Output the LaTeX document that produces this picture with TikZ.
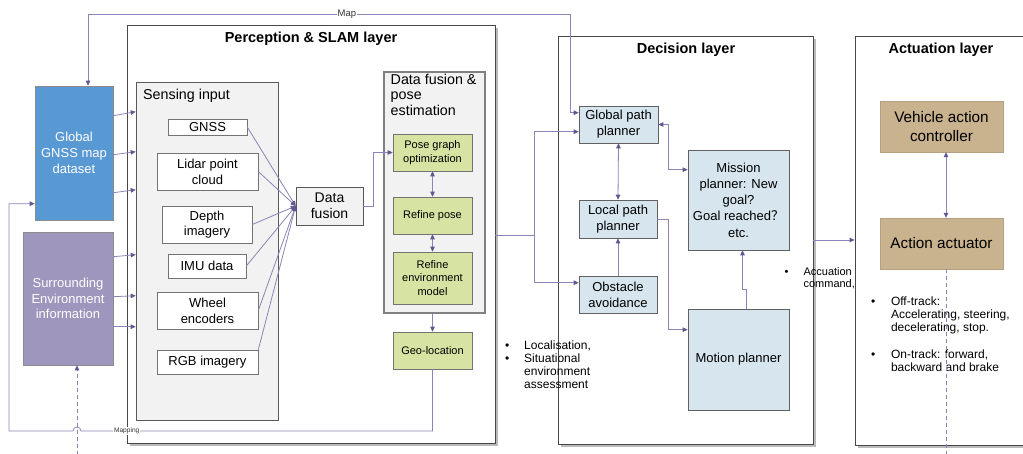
\documentclass[tikz,border=0pt]{standalone}
\usepackage{fontspec}
\setmainfont{Liberation Sans}
\newfontfamily\cjkfont{Noto Sans CJK SC}
\usetikzlibrary{arrows.meta,calc,shadows}

\definecolor{linec}{RGB}{140,132,184}
\definecolor{tipc}{RGB}{96,88,146}
\definecolor{mapblue}{RGB}{88,152,211}
\definecolor{envpurple}{RGB}{158,150,188}
\definecolor{stepgreen}{RGB}{214,227,162}
\definecolor{planblue}{RGB}{214,229,238}
\definecolor{acttan}{RGB}{201,179,143}
\definecolor{panelgray}{RGB}{242,242,242}

\newcommand\fsz[2]{\fontsize{#1}{#2}\selectfont}

\begin{document}
\begin{tikzpicture}[x=1pt,y=-1pt,
  sz/.style 2 args={minimum width=#1pt, minimum height=#2pt},
  layer/.style={draw=black!72, line width=0.8pt, fill=white,
    drop shadow={shadow xshift=2.5pt, shadow yshift=-2.5pt, fill=black!45, opacity=0.6}},
  title/.style={font=\bfseries\fsz{14.5}{16}, inner sep=0pt},
  source/.style={draw=black!45, line width=0.6pt, text=white, align=center,
    font=\fsz{13}{16}, inner sep=2pt},
  sensor/.style={draw=black!55, line width=0.6pt, fill=white, align=center,
    font=\fsz{13}{15.7}, inner sep=1pt},
  panel/.style={draw=black!65, line width=0.6pt, fill=panelgray},
  stepbox/.style={draw=black!55, line width=0.6pt, fill=stepgreen, align=center,
    font=\fsz{11}{13.4}, inner sep=1pt},
  planbox/.style={draw=black!62, line width=0.6pt, fill=planblue, align=center,
    font=\fsz{13}{16.2}, inner sep=1pt},
  actbox/.style={draw=acttan!90!black, line width=0.4pt, fill=acttan, align=center,
    font=\fsz{15.3}{18.3}, inner sep=1pt},
  note/.style={inner sep=0pt, anchor=north west},
  conn/.style={draw=linec, line width=0.8pt},
  arr/.style={conn, -{Triangle[length=5pt,width=4.5pt,color=tipc]}},
  dblarr/.style={conn, {Triangle[length=5pt,width=4.5pt,color=tipc]}-{Triangle[length=5pt,width=4.5pt,color=tipc]}},
  lbl/.style={fill=white, inner sep=0.8pt, text=black!80}
]
\useasboundingbox (0,0) rectangle (1023,453);
\clip (0,0) rectangle (1023,453);

% ---------- layers ----------
\node[layer, sz={368}{418}] (percep) at (311,234) {};
\node[title] (percepT) at (311,39) {Perception \& SLAM layer};
\node[layer, sz={255}{408}] (decision) at (685.5,240) {};
\node[title] (decisionT) at (686,50) {Decision layer};
\node[layer, sz={175}{409}] (actuation) at (942.5,240.5) {};
\node[title] (actuationT) at (941,50) {Actuation layer};

% ---------- external sources ----------
\node[source, fill=mapblue, sz={78}{134}] (gnssmap) at (74,153) {Global\\GNSS map\\dataset};
\node[source, fill=envpurple, sz={90}{133}, font=\fsz{13}{15.7}] (surround) at (68,298.5)
  {Surrounding\\Environment\\information};

% ---------- sensing input ----------
\node[panel, sz={142}{338}] (sensing) at (207,251) {};
\node[inner sep=0pt, anchor=west, font=\fsz{14.3}{16}] (sensingT) at (143,96) {Sensing input};
\node[sensor, sz={79}{16}] (gnss) at (207.5,127) {GNSS};
\node[sensor, sz={101}{37}] (lidar) at (207.5,171.5) {Lidar point\\cloud};
\node[sensor, sz={90}{37}] (depth) at (207,224.5) {Depth\\imagery};
\node[sensor, sz={78}{24}] (imu) at (207,266) {IMU data};
\node[sensor, sz={101}{37}] (wheel) at (207.5,310.5) {Wheel\\encoders};
\node[sensor, sz={101}{24}] (rgb) at (207.5,362) {RGB imagery};

\node[panel, sz={67}{38}, align=center, font=\fsz{14}{15.7}, inner sep=1pt] (df) at (329.5,206) {Data\\fusion};

% ---------- data fusion & pose estimation ----------
\node[draw=black!50, line width=1.3pt, fill=panelgray, sz={101}{241},
  drop shadow={shadow xshift=1.2pt, shadow yshift=-1.2pt, fill=black!30, opacity=0.5}] (dfpe) at (434.5,192.5) {};
\node[note, align=left, font=\fsz{14.3}{15.5}] (dfpeT) at (390.5,73.5) {Data fusion \&\\pose\\estimation};
\node[stepbox, sz={79}{37}] (pgo) at (432.5,152.5) {Pose graph\\optimization};
\node[stepbox, sz={79}{37}] (rpose) at (432.5,215.5) {Refine pose};
\node[stepbox, sz={79}{52}] (renv) at (432.5,278) {Refine\\environment\\model};
\node[stepbox, sz={79}{37}] (geo) at (432.5,350.5) {Geo-location};

% ---------- decision layer ----------
\node[planbox, sz={79}{37}] (gpp) at (618.5,124.5) {Global path\\planner};
\node[planbox, sz={78}{38}] (lpp) at (618,219) {Local path\\planner};
\node[planbox, sz={78}{37}] (obs) at (618,294.5) {Obstacle\\avoidance};
\node[planbox, sz={101}{100}] (mission) at (738.5,200)
  {Mission\\planner: New\\goal?\\Goal reached{\cjkfont ？}\\etc.};
\node[planbox, sz={101}{101}] (motion) at (738.5,359.5) {Motion planner};

% ---------- actuation layer ----------
\node[actbox, sz={123}{51}] (vac) at (941.5,126.5) {Vehicle action\\controller};
\node[actbox, sz={123}{51}] (aa) at (941.5,243.5) {Action actuator};

% ---------- notes ----------
\node[note, font=\fsz{12}{13.3}] (locnote) at (505,339.5)
  {\begin{tabular}{@{}l@{\hspace{14.8pt}}l@{}}\textbullet & Localisation,\\ \textbullet & Situational\\ & environment\\ & assessment\end{tabular}};
\node[note, font=\fsz{11}{11.7}] (cmdnote) at (784.5,267.5)
  {\begin{tabular}{@{}l@{\hspace{15pt}}l@{}}\textbullet & Accuation\\ & command,\end{tabular}};
\node[note, font=\fsz{12}{13.3}] (trknote) at (871,295.5)
  {\begin{tabular}{@{}l@{\hspace{15.6pt}}l@{}}\textbullet & Off-track:\\ & Accelerating, steering,\\ & decelerating, stop.\\ & \\ \textbullet & On-track: forward,\\ & backward and brake\end{tabular}};

% ---------- connectors ----------
\coordinate (mapL) at (88,14);
\coordinate (mapR) at (570,14);
\draw[dblarr] (gnssmap.north -| mapL) -- (mapL) -- node[lbl, pos=0.537, font=\fsz{9.5}{10}] {Map} (mapR)
  |- ($(gpp.north west)+(0,7)$);

\draw[arr] ($(gnssmap.north east)+(0,30)$) -- ($(sensing.north west)+(0,30)$);
\draw[arr] ($(gnssmap.north east)+(0,69)$) -- ($(sensing.north west)+(0,70)$);
\draw[arr] ($(gnssmap.north east)+(0,107)$) -- ($(sensing.north west)+(0,108)$);
\draw[arr] ($(surround.north east)+(0,25)$) -- ($(sensing.north west)+(0,173)$);
\draw[arr] ($(surround.north east)+(0,65)$) -- ($(sensing.north west)+(0,214)$);
\draw[arr] ($(surround.north east)+(0,95)$) -- ($(sensing.north west)+(0,245)$);

\coordinate (hopR) at (81,431);
\coordinate (mapcorner) at (9,431);
\draw[arr] (geo.south) |- node[lbl, pos=0.935, font=\fsz{6.6}{7}] {Mapping} (hopR)
  arc[start angle=0, end angle=-180, radius=4] -- (mapcorner)
  |- ($(gnssmap.north west)+(0,118)$);

\coordinate (envIn) at (77,455);
\draw[arr, dash pattern=on 4pt off 3pt] (envIn) -- (surround.south -| envIn);

\draw[arr] (gnss.east) -- (df.west);
\draw[arr] (lidar.east) -- (df.west);
\draw[arr] (depth.east) -- (df.west);
\draw[arr] (imu.east) -- (df.west);
\draw[arr] (wheel.east) -- (df.west);
\draw[arr] (rgb.north east) -- (df.west);

\draw[arr] (df.east) -- ++(10,0) |- (pgo.west);
\draw[dblarr] (pgo.south) -- (rpose.north);
\draw[dblarr] (rpose.south) -- (renv.north);
\draw[arr] (dfpe.south -| geo.north) -- (geo.north);

\coordinate (split) at (534,235);
\draw[conn] (percep.east |- split) -- (split);
\draw[arr] (split) |- ($(gpp.north west)+(0,26)$);
\draw[arr] (split) |- ($(obs.north west)+(0,7)$);

\draw[dblarr] (gpp.south) -- (lpp.north);
\draw[arr] (obs.north) -- (lpp.south);
\draw[dblarr] (gpp.east) -- ++(10,0) |- ($(mission.north west)+(0,20)$);
\draw[arr] (lpp.east) -- ++(11,0) |- ($(motion.north west)+(0,21)$);
\draw[arr] ($(motion.north)+(8,0)$) -- ++(0,-19) -| ($(mission.south)+(4,0)$);

\draw[arr] (decision.east) -- (decision.east -| actuation.west);

\draw[dblarr] ($(vac.south)+(4.5,0)$) -- ($(aa.north)+(4.5,0)$);
\coordinate (actOut) at (946,455);
\draw[conn, dash pattern=on 4pt off 3pt] (aa.south -| actOut) -- (actOut);
\end{tikzpicture}
\end{document}
